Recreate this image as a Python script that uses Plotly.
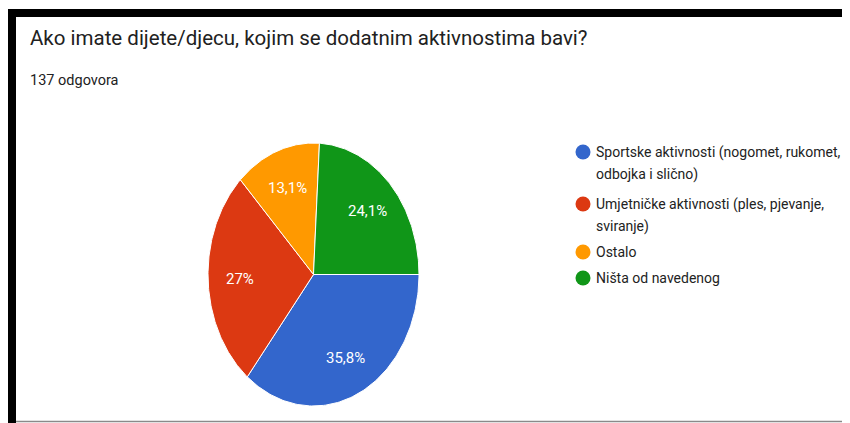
import numpy as np
import plotly.graph_objects as go

# ---- data ----
categories = [
    ["Sportske aktivnosti (nogomet, rukomet,", "odbojka i slično)"],
    ["Umjetničke aktivnosti (ples, pjevanje,", "sviranje)"],
    ["Ostalo"],
    ["Ništa od navedenog"],
]
values = [35.8, 27.0, 13.1, 24.1]
slice_labels = ["35,8%", "27%", "13,1%", "24,1%"]
colors = ["#3366CC", "#DC3912", "#FF9900", "#109618"]
title_text = "Ako imate dijete/djecu, kojim se dodatnim aktivnostima bavi?"
subtitle_text = "137 odgovora"

# ---- layout geometry (screen pixel space; page body has 8px margin) ----
OFF = 8
W, H = 850, 423
cx, cy = 313.5, 274.5
rx, ry = 105.5, 131.5
start_deg = 90.0  # clockwise from 12 o'clock
label_r = 0.7

fig = go.Figure()

total = sum(values)
cum = start_deg
for cat, v, lab, col in zip(categories, values, slice_labels, colors):
    span = 360.0 * v / total
    th = np.radians(np.linspace(cum, cum + span, 120))
    xs = np.concatenate([[cx], cx + rx * np.sin(th), [cx]])
    ys = np.concatenate([[cy], cy - ry * np.cos(th), [cy]])
    fig.add_trace(go.Scatter(
        x=xs, y=ys, mode="lines", fill="toself", fillcolor=col,
        line=dict(color="white", width=1), hoverinfo="text",
        text=f"{' '.join(cat)}: {lab}", showlegend=False,
    ))
    mid = np.radians(cum + span / 2)
    fig.add_annotation(
        x=cx + label_r * rx * np.sin(mid), y=cy - label_r * ry * np.cos(mid),
        text=lab, showarrow=False, xanchor="center", yanchor="middle",
        font=dict(family="Roboto", size=15, color="white"),
    )
    cum += span

# legend (custom, placed like the Google Forms legend)
leg_x = 583
leg_y = [152, 204, 252, 278]
line_gap = 22.5
fig.add_trace(go.Scatter(
    x=[leg_x] * len(categories), y=leg_y, mode="markers",
    marker=dict(size=15, color=colors, line=dict(width=0)),
    hoverinfo="skip", showlegend=False,
))
for cat, yy in zip(categories, leg_y):
    for i, line in enumerate(cat):
        fig.add_annotation(
            x=594, y=yy + i * line_gap, text=line, showarrow=False,
            xanchor="left", yanchor="middle", align="left",
            font=dict(family="Roboto", size=14, color="#222222"),
        )

fig.add_annotation(x=28, y=38, text=title_text, showarrow=False, xanchor="left",
                   yanchor="middle", font=dict(family="Roboto", size=20.5, color="#212121"))
fig.add_annotation(x=28, y=80, text=subtitle_text, showarrow=False, xanchor="left",
                   yanchor="middle", font=dict(family="Roboto", size=14.5, color="#212121"))

# frame
shapes = [
    dict(type="rect", x0=7, x1=16, y0=9, y1=H + 2, fillcolor="black", line=dict(width=0)),
    dict(type="rect", x0=7, x1=W + 2, y0=9, y1=17, fillcolor="black", line=dict(width=0)),
    dict(type="line", x0=16, x1=W + 2, y0=421.5, y1=421.5, line=dict(color="#8a8a8a", width=1.5)),
]

fig.update_layout(
    width=W - OFF, height=H - OFF, margin=dict(l=0, r=0, t=0, b=0),
    paper_bgcolor="white", plot_bgcolor="white",
    xaxis=dict(range=[OFF, W], visible=False, fixedrange=True),
    yaxis=dict(range=[H, OFF], visible=False, fixedrange=True),
    shapes=shapes, showlegend=False,
)

fig.write_html("out.html")
